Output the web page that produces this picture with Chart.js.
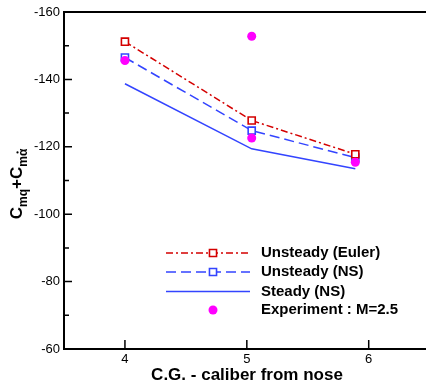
<!DOCTYPE html>
<html>
<head>
<meta charset="utf-8">
<script src="https://cdn.jsdelivr.net/npm/chart.js@4/dist/chart.umd.min.js"></script>
<style>
  html, body { margin: 0; padding: 0; background: #fff; overflow: hidden; }
  #wrap { width: 426px; height: 385px; overflow: hidden; }
  canvas { display: block; }
</style>
</head>
<body>
<div id="wrap"><canvas id="chart" width="426" height="385"></canvas></div>
<script>
// C.G. positions (caliber from nose) and damping derivative values
const cgModel = [4.0, 5.04, 5.89];
const cmUnsteadyEuler = [-151.2, -127.8, -117.8];
const cmUnsteadyNS = [-146.5, -124.8, -116.8];
const cmSteadyNS = [-138.7, -119.4, -113.5];
const cgExperiment = [4.0, 5.04, 5.04, 5.89];
const cmExperiment = [-145.6, -152.8, -122.6, -115.4];

const seriesLabels = ["Unsteady (Euler)", "Unsteady (NS)", "Steady (NS)", "Experiment : M=2.5"];
const xTickValues = [4, 5, 6];
const xTitle = "C.G. - caliber from nose";

const RED = "#d40000";
const BLUE = "#3344ff";
const MAGENTA = "#ff00ff";
const FONT = "'Liberation Sans', Arial, sans-serif";

const toPoints = (xs, ys) => ys.map((y, i) => ({ x: xs[i], y: y }));

const datasets = [
  {
    label: seriesLabels[0],
    data: toPoints(cgModel, cmUnsteadyEuler),
    borderColor: RED,
    borderWidth: 1.5,
    borderDash: [7, 3, 2, 3],
    pointStyle: "rect",
    pointRadius: 5,
    pointBorderWidth: 1.6,
    pointBorderColor: RED,
    pointBackgroundColor: "#fff",
    order: 1,
  },
  {
    label: seriesLabels[1],
    data: toPoints(cgModel, cmUnsteadyNS),
    borderColor: BLUE,
    borderWidth: 1.5,
    borderDash: [10, 5],
    pointStyle: "rect",
    pointRadius: 5,
    pointBorderWidth: 1.6,
    pointBorderColor: BLUE,
    pointBackgroundColor: "#fff",
    order: 2,
  },
  {
    label: seriesLabels[2],
    data: toPoints(cgModel, cmSteadyNS),
    borderColor: BLUE,
    borderWidth: 1.5,
    pointRadius: 0,
    order: 3,
  },
  {
    label: seriesLabels[3],
    data: toPoints(cgExperiment, cmExperiment),
    showLine: false,
    pointStyle: "circle",
    pointRadius: 4.5,
    pointBorderWidth: 0,
    pointBackgroundColor: MAGENTA,
    pointBorderColor: MAGENTA,
    order: 0,
  },
];

// frame top line, inward ticks, axis titles and legend
const decorations = {
  id: "decorations",
  afterDraw(chart) {
    const ctx = chart.ctx;
    const area = chart.chartArea;
    const xs = chart.scales.x;
    const ys = chart.scales.y;
    ctx.save();

    ctx.strokeStyle = "#000";
    ctx.lineWidth = 2;
    ctx.beginPath();
    ctx.moveTo(area.left - 1, area.top);
    ctx.lineTo(area.right, area.top);
    ctx.stroke();

    ctx.lineWidth = 1.5;
    ctx.beginPath();
    for (let v = -160; v <= -60; v += 10) {
      const py = ys.getPixelForValue(v);
      const len = v % 20 === 0 ? 8 : 5;
      ctx.moveTo(area.left, py);
      ctx.lineTo(area.left + len, py);
    }
    xTickValues.forEach((v) => {
      const px = xs.getPixelForValue(v);
      ctx.moveTo(px, area.bottom);
      ctx.lineTo(px, area.bottom - 9);
    });
    ctx.stroke();

    // x title
    ctx.fillStyle = "#000";
    ctx.font = "bold 17px " + FONT;
    ctx.textAlign = "center";
    ctx.textBaseline = "alphabetic";
    ctx.fillText(xTitle, 247, 380);

    // y title with subscripts
    const parts = [
      { t: "C", f: "bold 17px " + FONT, dy: 0 },
      { t: "mq", f: "bold 12px " + FONT, dy: 5 },
      { t: "+", f: "bold 17px " + FONT, dy: 0 },
      { t: "C", f: "bold 17px " + FONT, dy: 0 },
      { t: "m", f: "bold 12px " + FONT, dy: 5 },
      { t: "α", f: "bold 12px " + FONT, dy: 5, dot: true },
    ];
    let total = 0;
    parts.forEach((p) => {
      ctx.font = p.f;
      p.w = ctx.measureText(p.t).width;
      total += p.w;
    });
    ctx.translate(22, 184);
    ctx.rotate(-Math.PI / 2);
    ctx.textAlign = "left";
    let cx = -total / 2;
    parts.forEach((p) => {
      ctx.font = p.f;
      ctx.fillText(p.t, cx, p.dy);
      if (p.dot) {
        ctx.beginPath();
        ctx.arc(cx + p.w / 2, p.dy - 9.5, 1.1, 0, Math.PI * 2);
        ctx.fill();
      }
      cx += p.w;
    });
    ctx.setTransform(1, 0, 0, 1, 0, 0);

    // legend
    const rowsY = [253, 272, 291.5, 310];
    const lx0 = 166, lx1 = 250, mx = 213;
    ctx.font = "bold 15px " + FONT;
    ctx.textBaseline = "middle";
    ctx.textAlign = "left";
    datasets.forEach((ds, i) => {
      const y = rowsY[i];
      if (ds.showLine !== false) {
        ctx.save();
        ctx.strokeStyle = ds.borderColor;
        ctx.lineWidth = ds.borderWidth;
        ctx.setLineDash(ds.borderDash || []);
        ctx.beginPath();
        ctx.moveTo(lx0, y);
        ctx.lineTo(lx1, y);
        ctx.stroke();
        ctx.restore();
      }
      if (ds.pointRadius > 0) {
        ctx.save();
        ctx.fillStyle = ds.pointBackgroundColor;
        ctx.strokeStyle = ds.pointBorderColor;
        ctx.lineWidth = ds.pointBorderWidth || 0;
        ctx.beginPath();
        if (ds.pointStyle === "rect") {
          const s = ds.pointRadius * Math.SQRT1_2;
          ctx.rect(mx - s, y - s, 2 * s, 2 * s);
          ctx.fill();
          ctx.stroke();
        } else {
          ctx.arc(mx, y, ds.pointRadius, 0, Math.PI * 2);
          ctx.fill();
        }
        ctx.restore();
      }
      ctx.fillStyle = "#000";
      ctx.fillText(ds.label, 261, y);
    });

    ctx.restore();
  },
};

new Chart(document.getElementById("chart").getContext("2d"), {
  type: "line",
  data: { datasets: datasets },
  plugins: [decorations],
  options: {
    responsive: false,
    animation: false,
    layout: { autoPadding: false, padding: { top: 12, left: 0, right: 0, bottom: 0 } },
    plugins: { legend: { display: false }, tooltip: { enabled: false } },
    elements: { line: { tension: 0 } },
    scales: {
      x: {
        type: "linear",
        min: 3.5,
        max: 6.47,
        afterBuildTicks: (scale) => {
          scale.ticks = xTickValues.map((v) => ({ value: v }));
        },
        afterFit: (scale) => {
          scale.height = 36;
          scale.paddingLeft = 0;
          scale.paddingRight = 0;
        },
        grid: { display: false, drawTicks: false },
        border: { display: true, color: "#000", width: 2 },
        ticks: {
          color: "#000",
          padding: 3,
          font: { family: FONT, size: 13 },
          autoSkip: false,
          maxRotation: 0,
        },
      },
      y: {
        type: "linear",
        reverse: true,
        min: -160,
        max: -60,
        afterFit: (scale) => {
          scale.width = 64;
        },
        grid: { display: false, drawTicks: false },
        border: { display: true, color: "#000", width: 2 },
        ticks: {
          stepSize: 20,
          color: "#000",
          padding: 4,
          font: { family: FONT, size: 13 },
        },
      },
    },
  },
});
</script>
</body>
</html>
